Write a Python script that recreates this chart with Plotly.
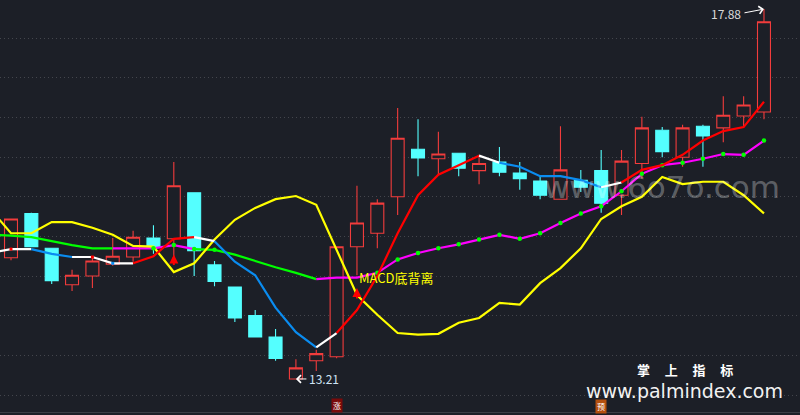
import plotly.graph_objects as go

BG = "#1c1f27"
days = list(range(38))
opens = [14.74,15.30,14.86,14.40,14.51,14.66,14.75,14.99,14.98,15.56,14.65,14.37,14.01,13.74,13.21,13.44,13.49,14.88,15.05,15.51,16.11,15.99,16.06,15.84,15.95,15.81,15.71,15.48,15.72,15.84,15.53,15.93,16.35,16.01,16.40,16.38,16.53,16.58]
closes = [15.23,14.88,14.45,14.52,14.70,14.76,15.00,14.88,15.65,14.83,14.44,13.98,13.74,13.47,13.35,13.53,14.88,15.18,15.43,16.25,16.00,16.05,15.87,15.93,15.82,15.74,15.53,15.85,15.63,15.43,15.96,16.38,16.08,16.38,16.28,16.54,16.67,17.72]
highs = [15.23,15.31,14.86,14.59,14.75,14.99,15.08,15.15,15.95,15.56,14.70,14.37,14.08,13.84,13.46,13.58,14.88,15.65,15.48,16.63,16.49,16.33,16.06,16.04,16.14,15.95,15.76,16.40,15.85,16.10,16.10,16.52,16.39,16.42,16.42,16.78,16.78,17.88]
lows = [14.71,14.88,14.41,14.32,14.36,14.64,14.69,14.79,14.69,14.51,14.38,13.93,13.74,13.44,13.21,13.31,13.47,14.52,14.86,15.28,15.77,15.79,15.77,15.67,15.77,15.60,15.48,15.48,15.57,15.31,15.28,15.74,16.01,15.89,15.89,16.20,16.39,16.49]

line_x = list(range(-1, 38))
yellow_line = [15.35,15.05,15.05,15.19,15.19,15.12,15.03,14.89,14.88,14.56,14.67,14.97,15.22,15.37,15.48,15.52,15.41,14.84,14.27,14.02,13.79,13.77,13.78,13.92,13.98,14.17,14.15,14.42,14.61,14.86,15.23,15.39,15.51,15.76,15.67,15.70,15.70,15.53,15.30]
slow_line = [15.03,15.02,15.00,14.95,14.90,14.86,14.86,14.86,14.86,14.90,14.85,14.84,14.78,14.70,14.62,14.55,14.47,14.49,14.49,14.55,14.72,14.80,14.86,14.91,14.97,15.03,14.98,15.05,15.18,15.30,15.39,15.58,15.80,15.91,15.94,15.99,16.05,16.04,16.22]
trend_line = [14.80,14.85,14.85,14.79,14.75,14.75,14.67,14.67,14.76,14.98,15.00,14.95,14.69,14.52,14.11,13.80,13.61,13.79,14.08,14.51,15.05,15.53,15.79,15.91,16.03,15.94,15.89,15.77,15.77,15.72,15.63,15.69,15.85,15.91,16.04,16.22,16.34,16.39,16.71]

RED, WHITE, BLUE, GREEN, MAGENTA, YELLOW = "#ff0000", "#ffffff", "#0a8cf0", "#00ff00", "#ff00ff", "#ffff00"
trend_runs = [(-1,1,WHITE),(1,3,BLUE),(3,6,WHITE),(6,9,RED),(9,10,WHITE),(10,15,BLUE),(15,16,WHITE),(16,23,RED),(23,24,WHITE),(24,29,BLUE),(29,30,WHITE),(30,37,RED)]
slow_runs = [(-1,5,GREEN),(5,9,MAGENTA),(9,15,GREEN),(15,37,MAGENTA)]
dot_days = [7,8,9,10] + list(range(18,38))
trend_accents = [(0,RED),(4,RED),(5,BLUE)]

fig = go.Figure()
fig.add_trace(go.Candlestick(x=days, open=opens, high=highs, low=lows, close=closes, whiskerwidth=0,
    increasing=dict(line=dict(color="#f23c3c", width=1.1), fillcolor=BG),
    decreasing=dict(line=dict(color="#54ffff", width=1.1), fillcolor="#54ffff"), hoverinfo="skip"))

def add_runs(values, runs, width=2.2):
    for a, b, c in runs:
        i, j = a + 1, b + 2
        fig.add_trace(go.Scatter(x=line_x[i:j], y=values[i:j], mode="lines", line=dict(color=c, width=width), hoverinfo="skip"))

add_runs(slow_line, slow_runs)
fig.add_trace(go.Scatter(x=line_x, y=yellow_line, mode="lines", line=dict(color=YELLOW, width=2.2), hoverinfo="skip"))
fig.add_trace(go.Scatter(x=dot_days, y=[slow_line[d + 1] for d in dot_days], mode="markers", marker=dict(color=GREEN, size=4.5), hoverinfo="skip"))
add_runs(trend_line, trend_runs)
for d, c in trend_accents:
    fig.add_trace(go.Scatter(x=[d], y=[trend_line[d + 1]], mode="markers", marker=dict(color=c, size=3, symbol="square"), hoverinfo="skip"))

ann = []
def label(text, x, y, size, color, xref="x", yref="y", **kw):
    family = kw.pop("family", "Noto Sans CJK SC, Liberation Sans")
    kw.setdefault("xanchor", "center")
    ann.append(dict(text=text, x=x, y=y, xref=xref, yref=yref, yanchor="middle", showarrow=False,
                    font=dict(size=size, color=color, family=family), **kw))

# extreme price labels with arrows
ann.append(dict(x=37, y=highs[37], ax=-21, ay=4, xref="x", yref="y", text="", showarrow=True, arrowcolor="#ffffff", arrowwidth=1, arrowhead=4, arrowsize=1.5))
label(f"{highs[37]:.2f}", 35.13, 17.82, 12, "#d8d8d8")
ann.append(dict(x=14, y=lows[14], ax=12, ay=0, xref="x", yref="y", text="", showarrow=True, arrowcolor="#ffffff", arrowwidth=1, arrowhead=4, arrowsize=1.5))
label(f"{lows[14]:.2f}", 15.38, 13.21, 12, "#cfe4f5")
label("MACD底背离", 17, 14.49, 13, "#ffff00", xanchor="left")

# signal arrows
for d, p in ((8, 14.78), (17, 14.36)):
    ann.append(dict(x=d, y=p, ax=0, ay=12, xref="x", yref="y", text="", showarrow=True, arrowcolor="#ff0000", arrowwidth=2, arrowhead=2, arrowsize=0.9))

# badges
label("涨", 16, 12.87, 8, "#ffffff", bgcolor="#7a0a0a", borderpad=1)
label("预", 29, 12.86, 8, "#ffffff", bgcolor="#b4500f", borderpad=1)

# watermarks
label("www.6o7o.com", 0.8275, 0.55, 31, "rgba(255,255,255,0.30)", xref="paper", yref="paper", family="DejaVu Sans")
label("<b>掌     上     指     标</b>", 0.856, 0.11, 13, "#ffffff", xref="paper", yref="paper", family="Noto Sans CJK SC")
label("www.palmindex.com", 0.856, 0.057, 19, "#f2f2f2", xref="paper", yref="paper", family="DejaVu Sans")

fig.update_layout(width=800, height=415, margin=dict(l=0, r=0, t=0, b=0), paper_bgcolor=BG, plot_bgcolor=BG,
    showlegend=False, annotations=ann, hovermode=False, boxgap=0.09,
    xaxis=dict(range=[-0.5405, 38.77], showgrid=False, zeroline=False, showticklabels=False, ticks="", rangeslider=dict(visible=False)),
    yaxis=dict(range=[12.755, 17.995], zeroline=False, showticklabels=False, ticks="", showgrid=True,
               tick0=17.515, dtick=0.5012, gridcolor="#44464d", gridwidth=1, griddash="1px,3px"),
    shapes=[dict(type="line", xref="paper", yref="paper", x0=0, x1=1, y0=0.006, y1=0.006, line=dict(color="#3a3d45", width=1))])

fig.write_html("out.html", config=dict(displayModeBar=False),
    post_script=f"document.body.style.margin='0';document.body.style.background='{BG}';document.documentElement.style.overflow='hidden';")
